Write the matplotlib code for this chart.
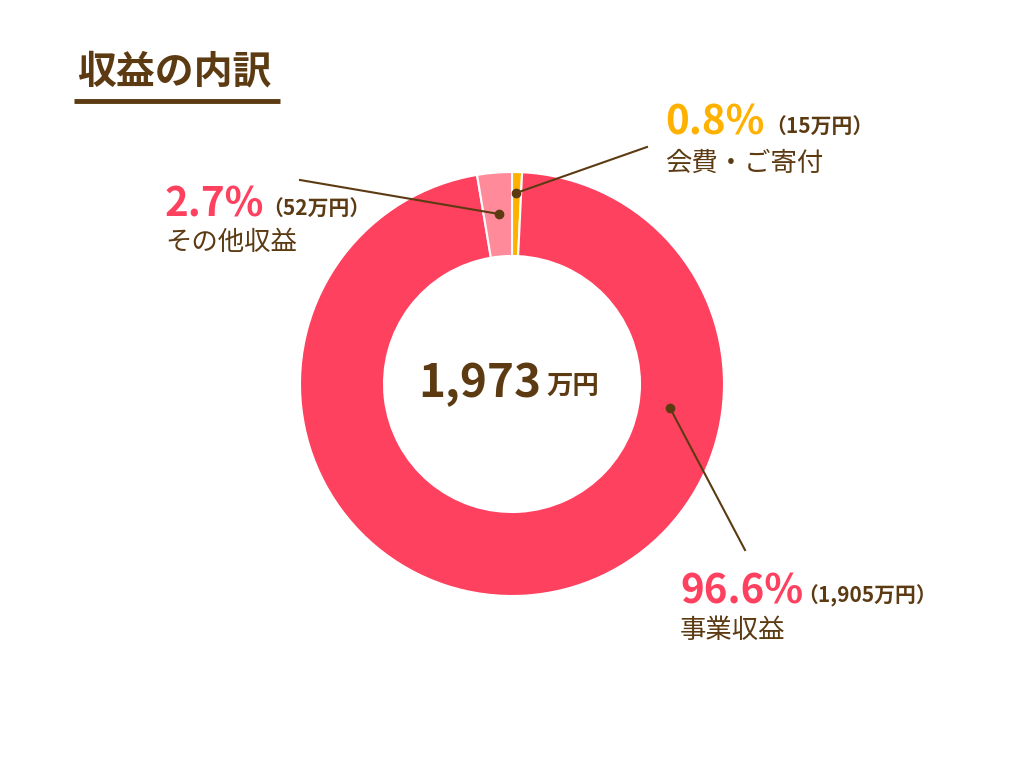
import matplotlib
matplotlib.use("Agg")
from matplotlib import pyplot as plt

plt.rcParams['font.family'] = ['Noto Sans CJK JP', 'DejaVu Sans']

# データ(時計回り、12時の位置から)
names = ['会費・ご寄付', '事業収益', 'その他収益']
amounts = [15, 1905, 52]          # 万円
pct_labels = ['0.8%', '96.6%', '2.7%']
amount_labels = ['（15万円）', '（1,905万円）', '（52万円）']
total_label = '1,973'
title = '収益の内訳'

colors = ['#FFB100', '#FF4160', '#FF8A9A']
brown = '#5C3A12'
H = 768

fig = plt.figure(figsize=(10.24, 7.68), dpi=100)
ax = fig.add_axes([0, 0, 1, 1])
ax.set_xlim(0, 1024)
ax.set_ylim(0, 768)
ax.set_aspect('equal')
ax.axis('off')

# ドーナツ
ax.pie(amounts, colors=colors, startangle=90, counterclock=False,
       center=(512, H - 384), radius=212,
       wedgeprops=dict(width=212 - 128, edgecolor='white', linewidth=1.5))
ax.set_xlim(0, 1024)
ax.set_ylim(0, 768)

# タイトル
ax.text(77, H - 72, title, fontsize=28, fontweight='bold', color=brown, va='center', ha='left')
ax.plot([74, 280], [H - 101, H - 101], color=brown, lw=3.5, solid_capstyle='butt')

# 中央の合計
ax.text(541, H - 384, total_label, fontsize=33, fontweight='bold', color=brown, ha='right', va='center')
ax.text(546, H - 386, '万円', fontsize=19, fontweight='bold', color=brown, ha='left', va='center')

# 引き出し線
lines = [((516, 193), (647, 147)), ((670, 408), (745, 550)), ((499, 214), (300, 180))]
for (p0, p1) in lines:
    ax.plot([p0[0], p1[0]], [H - p0[1], H - p1[1]], color=brown, lw=1.5)
    ax.plot(p0[0], H - p0[1], 'o', color=brown, ms=6)

# ラベル
lab_pos = [(665, 123, 765, 163), (680, 592, 797, 630), (165, 205, 262, 242)]
for i in range(len(names)):
    x, y, x2, y2 = lab_pos[i]
    ax.text(x, H - y, pct_labels[i], fontsize=29, fontweight='bold', color=colors[i] if i != 2 else '#FF4160',
            ha='left', va='center')
    ax.text(x2, H - y - 4, amount_labels[i], fontsize=15, fontweight='bold', color=brown, ha='left', va='center')
    ax.text(x, H - y2, names[i], fontsize=19, color=brown, ha='left', va='center')

fig.savefig('out.png', dpi=100, facecolor='white')
